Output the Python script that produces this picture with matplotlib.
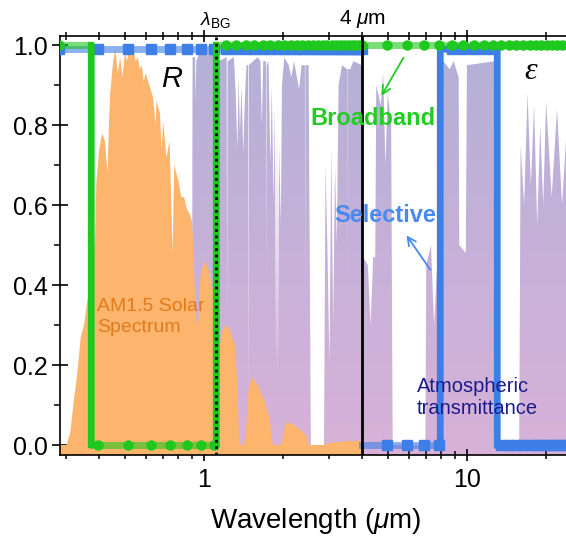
import numpy as np
import matplotlib
matplotlib.use("Agg")
import matplotlib.pyplot as plt
from matplotlib.colors import LinearSegmentedColormap
from matplotlib.ticker import NullFormatter, MultipleLocator, LogLocator

plt.rcParams['font.family'] = ['Liberation Sans', 'DejaVu Sans']
plt.rcParams['mathtext.fontset'] = 'custom'
plt.rcParams['mathtext.rm'] = 'Liberation Sans'
plt.rcParams['mathtext.it'] = 'Liberation Sans:italic'
plt.rcParams['mathtext.bf'] = 'Liberation Sans:bold'

# AM1.5 solar spectrum (normalised)
sol_wl = [0.28, 0.30, 0.31, 0.32, 0.33, 0.34, 0.35, 0.36, 0.37, 0.38, 0.385, 0.39,
          0.40, 0.41, 0.42, 0.43, 0.435, 0.44, 0.45, 0.46, 0.47, 0.48, 0.49, 0.50,
          0.51, 0.52, 0.53, 0.54, 0.55, 0.56, 0.57, 0.58, 0.59, 0.60, 0.62, 0.64,
          0.655, 0.66, 0.68, 0.69, 0.70, 0.72, 0.74, 0.76, 0.77, 0.80, 0.82, 0.84,
          0.86, 0.88, 0.90, 0.91, 0.93, 0.95, 0.97, 1.00, 1.04, 1.07, 1.10, 1.12,
          1.135, 1.15, 1.18, 1.22, 1.25, 1.28, 1.31, 1.34, 1.36, 1.38, 1.42, 1.45,
          1.48, 1.52, 1.56, 1.60, 1.65, 1.70, 1.75, 1.78, 1.80, 1.83, 1.96, 1.98,
          2.02, 2.07, 2.10, 2.20, 2.30, 2.40, 2.46, 2.50, 2.90, 2.95, 3.30, 3.50,
          3.80, 4.00]
sol_val = [0.0, 0.0, 0.03, 0.11, 0.18, 0.27, 0.30, 0.36, 0.40, 0.46, 0.52, 0.66,
           0.74, 0.78, 0.76, 0.68, 0.80, 0.88, 0.95, 0.99, 0.93, 0.97, 0.92, 0.98,
           0.96, 1.00, 0.97, 0.99, 0.96, 0.97, 0.94, 0.95, 0.91, 0.93, 0.90, 0.87,
           0.80, 0.86, 0.83, 0.74, 0.81, 0.72, 0.76, 0.48, 0.70, 0.66, 0.62, 0.62,
           0.59, 0.58, 0.56, 0.50, 0.32, 0.30, 0.42, 0.46, 0.44, 0.40, 0.37, 0.10,
           0.02, 0.25, 0.29, 0.30, 0.29, 0.27, 0.25, 0.15, 0.02, 0.0, 0.0, 0.05,
           0.14, 0.17, 0.16, 0.15, 0.13, 0.11, 0.08, 0.07, 0.03, 0.0, 0.0, 0.01,
           0.04, 0.06, 0.055, 0.05, 0.04, 0.03, 0.02, 0.0, 0.0, 0.005, 0.008, 0.01,
           0.01, 0.01]

# atmospheric transmittance
atm_wl = [0.90, 0.905, 0.925, 0.93, 0.935, 0.96, 1.10, 1.125, 1.13, 1.14, 1.22, 1.225,
          1.23, 1.30, 1.32, 1.34, 1.355, 1.37, 1.39, 1.41, 1.43, 1.45, 1.47, 1.475,
          1.48, 1.60, 1.64, 1.66, 1.68, 1.72, 1.725, 1.73, 1.76, 1.79, 1.81, 1.84,
          1.86, 1.88, 1.895, 1.91, 1.93, 1.96, 1.98, 2.02, 2.10, 2.15, 2.20, 2.30,
          2.35, 2.42, 2.425, 2.43, 2.50, 2.55, 2.86, 2.90, 2.95, 3.00, 3.05, 3.10,
          3.15, 3.20, 3.25, 3.35, 3.50, 3.505, 3.51, 3.60, 3.70, 3.98, 4.02, 4.20,
          4.30, 4.40, 4.48, 4.52, 4.70, 4.80, 4.90, 5.00, 5.15, 5.22, 6.95, 7.00,
          7.30, 7.50, 7.70, 7.85, 7.90, 8.60, 8.90, 9.30, 9.35, 9.90, 10.0, 12.8,
          13.0, 15.8, 16.0, 16.5, 17.0, 17.5, 18.0, 18.5, 19.0, 19.5, 20.0, 21.0,
          22.0, 23.0, 24.0, 25.0]
atm_t = [0.0, 0.97, 0.97, 0.86, 0.96, 0.98, 0.98, 0.93, 0.90, 0.96, 0.97, 0.30,
         0.96, 0.97, 0.88, 0.74, 0.92, 0.78, 0.90, 0.73, 0.86, 0.95, 0.95, 0.05,
         0.95, 0.97, 0.96, 0.80, 0.96, 0.96, 0.40, 0.95, 0.96, 0.70, 0.90, 0.61,
         0.85, 0.20, 0.80, 0.17, 0.75, 0.55, 0.90, 0.97, 0.95, 0.92, 0.96, 0.89,
         0.95, 0.95, 0.35, 0.95, 0.95, 0.0, 0.0, 0.70, 0.48, 0.20, 0.75, 0.30,
         0.70, 0.50, 0.90, 0.95, 0.94, 0.40, 0.94, 0.94, 0.96, 0.95, 0.47, 0.45,
         0.30, 0.47, 0.47, 0.90, 0.85, 0.93, 0.70, 0.88, 0.80, 0.0, 0.0, 0.45,
         0.50, 0.30, 0.45, 0.40, 0.97, 0.94, 0.96, 0.92, 0.50, 0.48, 0.95, 0.96,
         0.0, 0.0, 0.75, 0.60, 0.88, 0.65, 0.85, 0.55, 0.80, 0.60, 0.86, 0.62,
         0.84, 0.60, 0.80, 0.65]

# ideal emitter curves (R below lambda_BG, epsilon above)
broad_wl = [0.28, 0.372, 0.372, 1.11, 1.11, 25.0]
broad_val = [1.0, 1.0, 0.0, 0.0, 1.0, 1.0]
sel_wl = [0.28, 4.0, np.nan, 4.0, 7.9, 7.9, 13.0, 13.0, 25.0]
sel_val = [0.99, 0.99, np.nan, 0.0, 0.0, 0.99, 0.99, 0.0, 0.0]

# wavelengths carrying markers
mark_wl = [0.28, 0.396, 0.512, 0.628, 0.744, 0.86, 0.976, 1.092, 1.208, 1.324,
           1.44, 1.556, 1.672, 1.788, 1.904, 2.02, 2.136, 2.252, 2.368, 2.484,
           2.60, 2.716, 2.832, 2.948, 3.064, 3.18, 3.296, 3.412, 3.528, 3.644,
           3.76, 3.876, 3.99, 4.95, 5.9, 6.85, 7.8, 8.75, 9.7, 10.65, 11.6, 12.55,
           13.5, 14.45, 15.4, 16.35, 17.3, 18.25, 19.2, 20.15, 21.1, 22.05, 23.0, 23.95]

lam_bg = 1.11
lam_4 = 4.0
yticks = [0.0, 0.2, 0.4, 0.6, 0.8, 1.0]
ytick_labels = ['0.0', '0.2', '0.4', '0.6', '0.8', '1.0']
xticks = [1, 10]
xtick_labels = ['1', '10']

green = '#1ec81e'
blue = '#3d7fe6'
orange = '#fdb46c'

fig = plt.figure(figsize=(5.66, 5.43), dpi=100)
ax = fig.add_axes([60/566, 88/543, 511.6/566, 419/543])
ax.set_xscale('log')
xmin, xmax = 0.2835, 25.0
ymin, ymax = -0.025, 1.023
ax.set_xlim(xmin, xmax)
ax.set_ylim(ymin, ymax)

# atmospheric transmittance: gradient fill clipped to the spectrum
poly = ax.fill_between(atm_wl, -1, atm_t, facecolor='none', edgecolor='none')
cmap = LinearSegmentedColormap.from_list('atm', ['#d8b2d9', '#b3b0d7'])
grad = np.linspace(0, 1, 256).reshape(-1, 1)
im = ax.imshow(grad, cmap=cmap, origin='lower', aspect='auto',
               extent=[xmin, xmax, ymin, ymax], zorder=1)
im.set_clip_path(poly.get_paths()[0], transform=ax.transData)
ax.set_xlim(xmin, xmax)
ax.set_ylim(ymin, ymax)

# solar spectrum
ax.fill_between(sol_wl, -1, sol_val, color=orange, lw=0, zorder=2)

# selective emitter
sel_pts_wl = [w for w in sel_wl if not np.isnan(w)]
sel_pts_val = [v for v in sel_val if not np.isnan(v)]
ax.plot(sel_wl, sel_val, color=blue, lw=5, alpha=0.6, zorder=3, solid_joinstyle='miter')
ax.plot(sel_wl[4:], sel_val[4:], color=blue, lw=4.5, zorder=3.1, solid_joinstyle='miter')
ax.plot(mark_wl, np.interp(mark_wl, sel_pts_wl, sel_pts_val),
        ls='none', marker='s', ms=6.5, color=blue, zorder=3.2)

# broadband emitter
ax.plot(broad_wl, broad_val, color=green, lw=5, alpha=0.6, zorder=4)
for w in [broad_wl[1], broad_wl[3]]:
    ax.plot([w, w], [0, 1], color=green, lw=4.5, zorder=4.1)
ax.plot(mark_wl, np.interp(mark_wl, broad_wl, broad_val), ls='none', marker='o',
        ms=6.5, color=green, zorder=4.2)

# band-gap and 4 um lines
ax.axvline(lam_bg, color='k', lw=2, ls=(0, (1, 1.3)), zorder=5)
ax.axvline(lam_4, color='k', lw=2, zorder=5)

tx = ax.get_xaxis_transform()
ax.text(lam_bg, 1.015, r'$\lambda_{\mathrm{BG}}$', transform=tx, ha='center',
        va='bottom', fontsize=14)
ax.text(lam_4, 1.014, r'$\mathit{4}\ \mu$m', transform=tx, ha='center',
        va='bottom', fontsize=15)

ax.text(0.756, 0.915, 'R', fontsize=21, style='italic', ha='center', va='center', zorder=6)
ax.text(17.4, 0.935, 'ε', fontsize=23, style='italic', family='Liberation Serif',
        ha='center', va='center', zorder=6)
ax.text(4.39, 0.8175, 'Broadband', fontsize=17, fontweight='bold', color='#22cc22',
        ha='center', va='center', zorder=6)
ax.text(4.88, 0.575, 'Selective', fontsize=17, fontweight='bold', color='#4a8af0',
        ha='center', va='center', zorder=6)
ax.text(0.392, 0.32, 'AM1.5 Solar\nSpectrum', fontsize=14, color='#e07c1c',
        ha='left', va='center', linespacing=1.3, zorder=6)
ax.text(6.45, 0.119, 'Atmospheric\ntransmittance', fontsize=14.5, color='#1b1b8a',
        ha='left', va='center', linespacing=1.25, zorder=6)

ax.annotate('', xy=(4.67, 0.8675), xytext=(5.81, 0.975),
            arrowprops=dict(arrowstyle='->,head_length=0.6,head_width=0.3',
                            color='#22cc22', lw=1.3), zorder=6)
ax.annotate('', xy=(5.81, 0.53), xytext=(7.36, 0.4325),
            arrowprops=dict(arrowstyle='->,head_length=0.6,head_width=0.3',
                            color='#4a8af0', lw=1.3), zorder=6)

ax.set_yticks(yticks)
ax.set_yticklabels(ytick_labels)
ax.yaxis.set_minor_locator(MultipleLocator(0.1))
ax.set_xticks(xticks)
ax.set_xticklabels(xtick_labels)
ax.xaxis.set_minor_locator(LogLocator(base=10, subs=np.arange(2, 10)))
ax.xaxis.set_minor_formatter(NullFormatter())
ax.tick_params(axis='both', which='major', labelsize=18, width=1.2)
ax.tick_params(axis='y', which='major', direction='inout', length=11, pad=3)
ax.tick_params(axis='y', which='minor', direction='out', length=4, width=1.1)
ax.tick_params(axis='x', which='major', direction='inout', length=9, pad=5, top=True)
ax.tick_params(axis='x', which='minor', direction='inout', length=6, width=1.1, top=True)
for s in ax.spines.values():
    s.set_linewidth(1.2)

ax.set_xlabel(r'Wavelength ($\mu$m)', fontsize=20, labelpad=10)

fig.savefig('out.png', dpi=100)
